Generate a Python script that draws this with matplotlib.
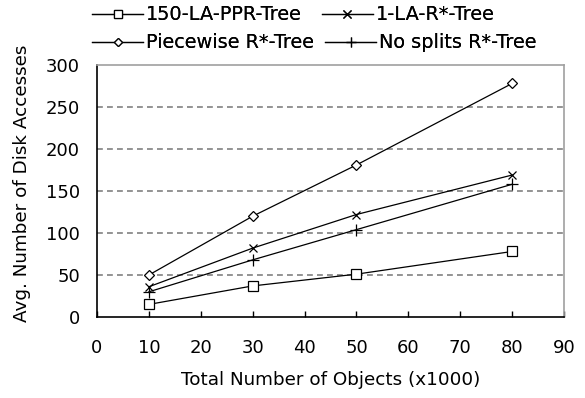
import matplotlib
matplotlib.use("Agg")
import matplotlib.pyplot as plt

plt.rcParams['font.family'] = ['DejaVu Sans']

x_objects = [10, 30, 50, 80]
ppr_tree = [15, 37, 51, 78]
la_rstar = [36, 82, 122, 169]
piecewise = [50, 120, 181, 278]
nosplits = [30, 68, 104, 158]
series_names = ['150-LA-PPR-Tree', '1-LA-R*-Tree', 'Piecewise R*-Tree', 'No splits R*-Tree']
x_ticks = [0, 10, 20, 30, 40, 50, 60, 70, 80, 90]
y_ticks = [0, 50, 100, 150, 200, 250, 300]
x_label = 'Total Number of Objects (x1000)'
y_label = 'Avg. Number of Disk Accesses'

W, H, DPI = 585, 398, 100
fig = plt.figure(figsize=(W / DPI, H / DPI), dpi=DPI)
renderer = fig.canvas.get_renderer()

# axes frame in pixels: x 97..564, y 65..317 (from top)
L, R, T, B = 97, 564, 65, 317
ax = fig.add_axes([L / W, (H - B) / H, (R - L) / W, (B - T) / H])


def fit_size(text, target_px, family='DejaVu Sans'):
    t = fig.text(0, 0, text, fontsize=10, family=family)
    w = t.get_window_extent(renderer).width
    t.remove()
    return 10 * target_px / w


FS_TICK = fit_size('300', 34)
FS_LAB = fit_size(x_label, 300)
FS_LEG = fit_size('Piecewise R*-Tree', 168)

styles = [
    (ppr_tree, 's', 7),
    (la_rstar, 'x', 6),
    (piecewise, 'D', 5),
    (nosplits, '+', 8),
]
handles = []
for (vals, mk, ms), name in zip(styles, series_names):
    ln, = ax.plot(x_objects, vals, color='black', lw=0.9, marker=mk, markersize=ms,
                  markerfacecolor='white', markeredgecolor='black', markeredgewidth=0.9,
                  label=name)
    handles.append(ln)

ax.set_xlim(0, 90)
ax.set_ylim(0, 300)
ax.set_xticks(x_ticks)
ax.set_yticks(y_ticks)
for y in y_ticks[1:-1]:
    ax.axhline(y, color='#808080', lw=1.2, ls=(0, (3.5, 2.5)), zorder=0)

ax.tick_params(axis='x', direction='in', length=4, width=1, labelsize=FS_TICK, pad=15)
ax.tick_params(axis='y', length=0, labelsize=FS_TICK, pad=12)
for s in ['left', 'bottom']:
    ax.spines[s].set_color('black')
    ax.spines[s].set_linewidth(1.2)
for s in ['top', 'right']:
    ax.spines[s].set_color('#a0a0a0')
    ax.spines[s].set_linewidth(1.2)

ax.set_xlabel(x_label, fontsize=FS_LAB, va='center', ha='center')
ax.set_ylabel(y_label, fontsize=FS_LAB, va='center', ha='center')
ax.xaxis.set_label_coords(0.5, (B - 380) / (B - T))
ax.yaxis.set_label_coords((22 - L) / (R - L), (B - 183) / (B - T))

# adjust tick label pads so label centres land where the reference has them
fig.canvas.draw()
xl = ax.get_xticklabels()[0].get_window_extent(renderer)
cur_cy = H - (xl.y0 + xl.y1) / 2
xpad = 15 + (348 - cur_cy) * 72 / DPI
yl = ax.get_yticklabels()[3].get_window_extent(renderer)
cur_right = yl.x1
ypad = 12 + (cur_right - 80) * 72 / DPI
ax.tick_params(axis='x', pad=xpad)
ax.tick_params(axis='y', pad=ypad)

# legend: two rows, drawn as two single-row legends
px2fs = lambda px: px / (FS_LEG * DPI / 72)
row_specs = [((handles[0], handles[1]), 15, 20), ((handles[2], handles[3]), 43, 11)]
for hs, yc, colsp in row_specs:
    lg = fig.legend(handles=list(hs), loc='center left',
                    bbox_to_anchor=(92 / W, 1 - yc / H), ncol=2, frameon=False,
                    fontsize=FS_LEG, handlelength=px2fs(51), handletextpad=px2fs(3),
                    columnspacing=px2fs(colsp), borderpad=0, borderaxespad=0,
                    markerscale=0.85)
    fig.add_artist(lg)

fig.savefig('out.png', dpi=DPI)
